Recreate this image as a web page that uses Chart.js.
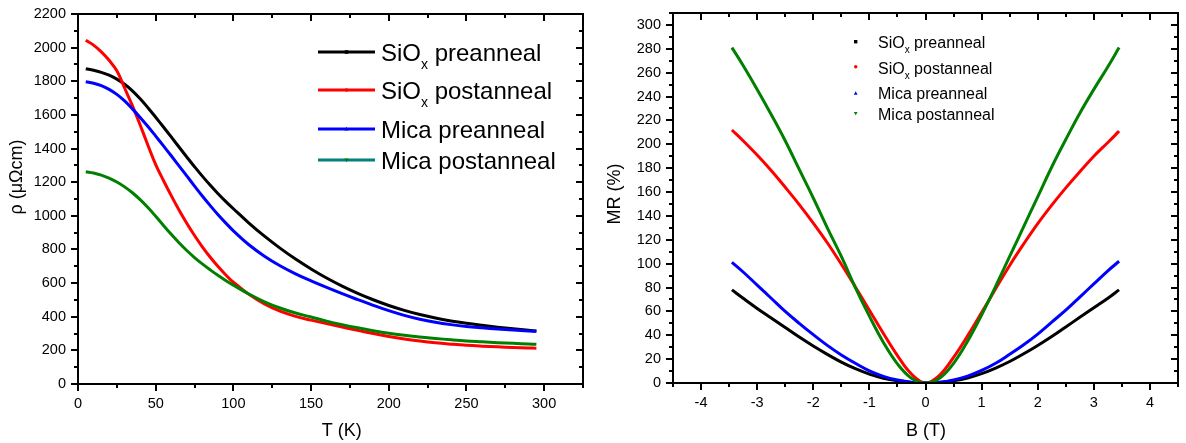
<!DOCTYPE html>
<html><head><meta charset="utf-8">
<script src="https://cdn.jsdelivr.net/npm/chart.js@4.4.0/dist/chart.umd.min.js"></script>
<style>
html,body{margin:0;padding:0;background:#fff;}
#wrap{position:relative;width:1186px;height:443px;background:#fff;}
canvas{position:absolute;top:0;}
</style>
</head><body>
<div id="wrap">
<canvas id="c1" width="593" height="443" style="left:0;width:593px;height:443px"></canvas>
<canvas id="c2" width="593" height="443" style="left:593px;width:593px;height:443px"></canvas>
</div>
<script>
const FONT = "'Liberation Sans', Arial, sans-serif";

// ---------- Left panel: resistivity vs temperature ----------
const T = [5,10,15,20,25,30,35,40,45,50,55,60,65,70,75,80,85,90,95,100,110,120,130,140,150,160,170,180,190,200,210,220,230,240,250,260,270,280,290,295];
const rhoSiOxPre  = [1875,1866,1853,1836,1813,1782,1743,1696,1643,1586,1528,1469,1409,1350,1292,1236,1183,1133,1086,1042,957,879,808,743,684,630,582,539,501,467,438,413,392,375,361,349,338,328,319,315];
const rhoSiOxPost = [2044,2015,1975,1925,1862,1760,1655,1540,1420,1305,1210,1120,1035,956,883,816,755,700,650,605,533,476,433,402,380,359,339,319,300,282,267,255,245,237,230,225,221,217,214,213];
const rhoMicaPre  = [1797,1788,1774,1752,1722,1683,1636,1585,1531,1474,1416,1357,1297,1237,1177,1118,1062,1008,958,911,828,760,703,655,613,574,537,502,468,436,408,385,367,353,342,334,327,321,315,313];
const rhoMicaPost = [1262,1255,1242,1224,1201,1172,1137,1096,1049,997,943,890,840,794,752,714,679,646,616,588,535,489,452,422,398,374,353,334,317,302,290,280,271,263,256,251,246,242,238,236];
const tTicks   = [0,50,100,150,200,250,300];
const rhoTicks = [0,200,400,600,800,1000,1200,1400,1600,1800,2000,2200];

// ---------- Right panel: magnetoresistance vs field ----------
const B = [-3.45,-3.25,-3,-2.75,-2.5,-2.25,-2,-1.75,-1.5,-1.25,-1,-0.75,-0.5,-0.25,0,0.25,0.5,0.75,1,1.25,1.5,1.75,2,2.25,2.5,2.75,3,3.25,3.45];
const mrSiOxPre  = [78,71,62.5,54.5,46.5,38.5,31,24,17.5,12,7.5,4,1.8,0.5,0,0.5,1.9,4.2,7.8,12.5,18,24.5,31.5,39,47,55,63,71,78];
const mrSiOxPost = [212,203,191,178,164,149.5,134,117.5,99.5,80.5,61,41.5,23,7.5,0,6.5,21.5,39.5,59,79,98.5,116.5,133.5,149,163.5,177,190,201.5,211];
const mrMicaPre  = [101,93,82,71,60,50,40.5,31.5,23.5,16.5,10.2,5.6,2.5,0.6,0,0.6,2.6,5.8,10.5,16.5,24,32,41,51,61,72,83,94,102];
const mrMicaPost = [281,266,246,225,203,179,155,130,106,80,56,34,16,4,0,4,16.5,35,57,81,106,131,156,181,204,226,246,265,281];
const bTicks  = [-4,-3,-2,-1,0,1,2,3,4];
const mrTicks = [0,20,40,60,80,100,120,140,160,180,200,220,240,260,280,300];

const seriesNames  = ['SiO_x preanneal','SiO_x postanneal','Mica preanneal','Mica postanneal'];
const seriesColors = ['#000000','#ff0000','#0000ff','#008000'];
const legendLineColors = ['#000000','#ff0000','#0000ff','#008080'];

function pts(xs, ys){ return xs.map((x,i)=>({x:x, y:ys[i]})); }

function makeDatasets(xs, list){
  return list.map((ys,i)=>({
    label: seriesNames[i],
    data: pts(xs, ys),
    borderColor: seriesColors[i],
    backgroundColor: seriesColors[i],
    borderWidth: 3,
    pointRadius: 0,
    fill: false,
    tension: 0.4,
    order: 3 - i
  }));
}

function scaleCfg(min, max, ticks, isX, pad, size){
  return {
    type: 'linear', min: min, max: max,
    afterBuildTicks: s => { s.ticks = ticks.map(v => ({value: v})); },
    afterFit: s => {
      if (isX) { s.height = size; s.paddingLeft = 0; s.paddingRight = 0; }
      else { s.width = size; s.paddingTop = 0; s.paddingBottom = 0; }
    },
    grid: {display: false, drawTicks: false, tickLength: 0},
    border: {display: false},
    ticks: {padding: pad, color: '#000', font: {family: FONT, size: 14.5},
            maxRotation: 0, autoSkip: false, callback: v => String(v)}
  };
}

function drawMarker(ctx, shape, x, y, r, color){
  ctx.fillStyle = color;
  ctx.beginPath();
  if (shape === 0) { ctx.rect(x - r, y - r, 2*r, 2*r); }
  else if (shape === 1) { ctx.arc(x, y, r, 0, Math.PI*2); }
  else if (shape === 2) { ctx.moveTo(x, y - r*1.2); ctx.lineTo(x + r*1.1, y + r*0.8); ctx.lineTo(x - r*1.1, y + r*0.8); ctx.closePath(); }
  else { ctx.moveTo(x, y + r*1.2); ctx.lineTo(x + r*1.1, y - r*0.8); ctx.lineTo(x - r*1.1, y - r*0.8); ctx.closePath(); }
  ctx.fill();
}

function drawRich(ctx, label, x, baseline, size, subSize, subDrop){
  const i = label.indexOf('_');
  ctx.textAlign = 'left'; ctx.textBaseline = 'alphabetic'; ctx.fillStyle = '#000';
  ctx.font = size + 'px ' + FONT;
  if (i < 0) { ctx.fillText(label, x, baseline); return; }
  const a = label.slice(0, i), s = label.charAt(i+1), b = label.slice(i+2);
  ctx.fillText(a, x, baseline); x += ctx.measureText(a).width;
  ctx.font = subSize + 'px ' + FONT;
  ctx.fillText(s, x, baseline + subDrop); x += ctx.measureText(s).width;
  ctx.font = size + 'px ' + FONT;
  ctx.fillText(b, x, baseline);
}

const framePlugin = {
  id: 'frame',
  afterDraw(chart, args, o){
    const ctx = chart.ctx;
    const {left, right, top, bottom} = chart.chartArea;
    const x = chart.scales.x, y = chart.scales.y;
    ctx.save();
    ctx.strokeStyle = '#000'; ctx.lineWidth = 2; ctx.lineCap = 'butt';
    ctx.strokeRect(left, top, right - left, bottom - top);
    const line = (a,b,c,d) => { ctx.beginPath(); ctx.moveTo(a,b); ctx.lineTo(c,d); ctx.stroke(); };
    const isMajor = (arr, v) => arr.some(m => Math.abs(m - v) < 1e-6);
    const nx = Math.round((x.max - x.min) / o.xMinor);
    for (let k = 0; k <= nx; k++){
      const v = Math.round((x.min + k*o.xMinor)*1000)/1000;
      const px = Math.round(x.getPixelForValue(v));
      const len = isMajor(o.xMajor, v) ? o.major : o.minor;
      line(px, bottom, px, bottom + len);
      line(px, top, px, top + len);
    }
    const ny = Math.round((y.max - y.min) / o.yMinor);
    for (let k = 0; k <= ny; k++){
      const v = Math.round((y.min + k*o.yMinor)*1000)/1000;
      const py = Math.round(y.getPixelForValue(v));
      const len = isMajor(o.yMajor, v) ? o.major : o.minor;
      line(left, py, left - len, py);
      line(right, py, right - len, py);
    }
    // axis titles
    ctx.fillStyle = '#000';
    ctx.font = '18px ' + FONT;
    ctx.textAlign = 'center'; ctx.textBaseline = 'middle';
    (o.titles || []).forEach(t => {
      ctx.save(); ctx.translate(t.x, t.y); ctx.rotate(t.rot || 0);
      ctx.fillText(t.text, 0, 0); ctx.restore();
    });
    // legend
    const L = o.legend;
    if (L) {
      seriesNames.forEach((name, i) => {
        if (L.lineX0 !== undefined) {
          ctx.strokeStyle = legendLineColors[i]; ctx.lineWidth = 3;
          line(L.lineX0, L.markerY[i], L.lineX1, L.markerY[i]);
          drawMarker(ctx, i, (L.lineX0 + L.lineX1)/2, L.markerY[i], 1.8, seriesColors[i]);
        } else {
          drawMarker(ctx, i, L.markerX, L.markerY[i], 1.7, seriesColors[i]);
        }
        drawRich(ctx, name, L.textX, L.baseY[i], L.size, L.subSize, L.subDrop);
      });
    }
    ctx.restore();
  }
};

Chart.defaults.font.family = FONT;

new Chart(document.getElementById('c1'), {
  type: 'line',
  data: { datasets: makeDatasets(T, [rhoSiOxPre, rhoSiOxPost, rhoMicaPre, rhoMicaPost]) },
  options: {
    responsive: false, animation: false, devicePixelRatio: 1,
    layout: { padding: {top: 14, right: 10, left: 0, bottom: 0} },
    scales: {
      x: scaleCfg(0, 325, tTicks, true, 11, 59),
      y: scaleCfg(0, 2200, rhoTicks, false, 12, 78)
    },
    plugins: {
      legend: {display: false}, tooltip: {enabled: false},
      frame: {
        xMinor: 25, xMajor: tTicks, yMinor: 100, yMajor: rhoTicks, major: 7, minor: 4,
        titles: [{text: 'T (K)', x: 341.7, y: 431, rot: 0},
                 {text: 'ρ (μΩcm)', x: 17.5, y: 177, rot: -Math.PI/2}],
        legend: {lineX0: 318, lineX1: 375, textX: 381, markerY: [52, 90, 129, 160],
                 baseY: [61, 99, 137.5, 168.5], size: 24, subSize: 14, subDrop: 7.5}
      }
    }
  },
  plugins: [framePlugin]
});

new Chart(document.getElementById('c2'), {
  type: 'line',
  data: { datasets: makeDatasets(B, [mrSiOxPre, mrSiOxPost, mrMicaPre, mrMicaPost]) },
  options: {
    responsive: false, animation: false, devicePixelRatio: 1,
    layout: { padding: {top: 13, right: 8, left: 0, bottom: 0} },
    scales: {
      x: scaleCfg(-4.5, 4.5, bTicks, true, 11, 60),
      y: scaleCfg(0, 310, mrTicks, false, 12, 80)
    },
    plugins: {
      legend: {display: false}, tooltip: {enabled: false},
      frame: {
        xMinor: 0.5, xMajor: bTicks, yMinor: 10, yMajor: mrTicks, major: 7, minor: 4,
        titles: [{text: 'B (T)', x: 333, y: 431, rot: 0},
                 {text: 'MR (%)', x: 22.5, y: 194, rot: -Math.PI/2}],
        legend: {markerX: 262.7, textX: 285, markerY: [41.7, 66.7, 93.3, 113.3],
                 baseY: [47.7, 74, 99.3, 120], size: 16, subSize: 10, subDrop: 5}
      }
    }
  },
  plugins: [framePlugin]
});
</script>
</body></html>
